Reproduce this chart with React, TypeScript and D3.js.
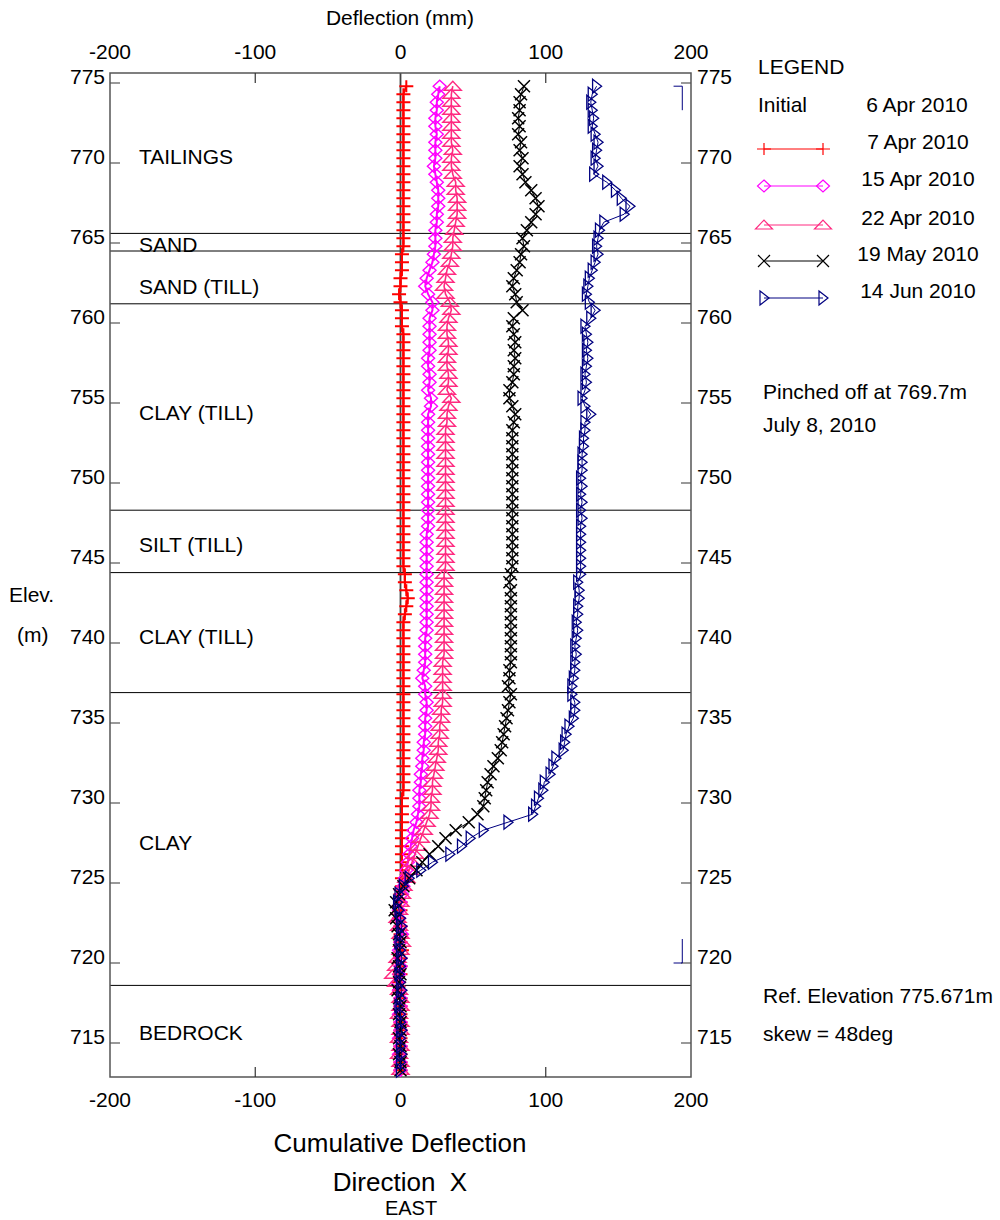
import React from "react";
import * as d3 from "d3";

const elevations = [
  774.8,774.3,773.8,773.3,772.8,772.3,771.8,771.3,770.8,770.3,
  769.8,769.3,768.8,768.3,767.8,767.3,766.8,766.3,765.8,765.3,
  764.8,764.3,763.8,763.3,762.8,762.3,761.8,761.3,760.8,760.3,
  759.8,759.3,758.8,758.3,757.8,757.3,756.8,756.3,755.8,755.3,
  754.8,754.3,753.8,753.3,752.8,752.3,751.8,751.3,750.8,750.3,
  749.8,749.3,748.8,748.3,747.8,747.3,746.8,746.3,745.8,745.3,
  744.8,744.3,743.8,743.3,742.8,742.3,741.8,741.3,740.8,740.3,
  739.8,739.3,738.8,738.3,737.8,737.3,736.8,736.3,735.8,735.3,
  734.8,734.3,733.8,733.3,732.8,732.3,731.8,731.3,730.8,730.3,
  729.8,729.3,728.8,728.3,727.8,727.3,726.8,726.3,725.8,725.3,
  724.8,724.3,723.8,723.3,722.8,722.3,721.8,721.3,720.8,720.3,
  719.8,719.3,718.8,718.3,717.8,717.3,716.8,716.3,715.8,715.3,
  714.8,714.3,713.8,713.3,
];

const apr07 = [
  4,2,2,2,2,2,2,2,2,2,
  2,2,2,2,2,2,2,2,2,2,
  2,1,1,1,0,0,-1,0,1,1,
  1,2,2,2,2,2,2,2,2,2,
  2,2,2,2,2,2,2,2,2,2,
  2,2,2,2,2,2,2,2,2,2,
  2,3,3,4,5,4,3,2,2,2,
  2,2,2,2,2,2,2,2,2,2,
  2,2,2,2,2,2,2,2,2,1,
  1,1,1,1,1,1,1,1,1,1,
  1,0,0,0,-1,0,0,0,1,0,
  0,0,-1,-1,0,0,0,0,0,0,
  0,0,0,0,
];

const apr15 = [
  27,26,25,25,24,24,25,24,24,24,
  23,24,25,26,26,26,25,25,24,24,
  24,23,22,20,18,17,19,22,22,20,
  20,20,20,20,19,19,20,20,19,21,
  21,19,19,19,19,19,19,19,19,19,
  19,19,19,19,19,19,18,18,18,18,
  18,18,18,18,18,18,18,18,18,17,
  17,17,17,16,15,17,17,18,18,17,
  17,17,16,16,15,15,14,14,13,13,
  13,12,11,9,8,7,6,5,4,3,
  2,1,0,-1,-1,0,1,0,-1,0,
  0,-1,-2,-1,0,0,-1,0,0,-1,
  0,-1,0,0,
];

const apr22 = [
  36,35,35,35,35,35,35,35,36,35,
  35,36,38,38,39,39,39,38,37,36,
  36,35,34,32,31,30,31,34,35,33,
  32,32,33,33,32,32,33,33,32,35,
  33,32,32,31,31,31,31,31,31,31,
  31,31,31,31,31,31,31,31,31,31,
  31,30,30,30,30,30,30,30,30,30,
  30,30,29,29,29,29,29,29,28,28,
  27,27,26,26,25,24,23,22,22,21,
  21,20,18,16,14,12,10,8,6,4,
  2,1,0,-1,-2,-1,0,1,0,-2,
  -3,-5,-3,-1,0,0,-1,0,0,-1,
  0,-1,0,0,
];

const may19 = [
  85,83,82,82,81,82,81,83,82,84,
  82,84,86,90,93,95,93,90,87,84,
  85,83,82,80,78,77,79,80,84,78,
  77,78,79,78,79,78,78,77,75,75,
  77,79,78,77,77,77,77,77,77,77,
  77,77,77,77,77,77,77,77,77,77,
  77,76,75,76,76,76,76,76,76,76,
  76,76,76,75,75,74,76,75,74,73,
  72,71,70,69,67,64,62,60,59,58,
  57,53,47,38,31,26,20,15,11,6,
  2,-1,-3,-4,-3,-2,-1,0,-1,-2,
  -1,0,-1,-2,-1,0,-1,0,0,-1,
  0,-1,0,0,
];

const jun14 = [
  135,132,131,132,133,132,134,136,135,134,
  136,133,142,148,152,158,154,140,137,136,
  135,136,134,132,130,129,128,130,134,131,
  127,128,129,128,129,128,127,128,127,125,
  127,131,127,127,126,126,125,125,125,124,
  125,124,125,124,125,124,124,124,124,124,
  124,124,122,123,123,122,122,121,122,121,
  120,121,120,120,119,118,118,120,120,119,
  116,114,113,112,107,105,103,99,98,95,
  93,91,74,57,48,42,34,22,14,6,
  2,-1,-2,-1,0,1,0,-1,0,1,
  0,-1,0,1,0,-1,0,0,1,0,
  0,1,0,0,
];

const seriesNames = ["7 Apr 2010", "15 Apr 2010", "22 Apr 2010", "19 May 2010", "14 Jun 2010"];
const seriesValues = [apr07, apr15, apr22, may19, jun14];
const seriesColors = ["#ff0000", "#ff00ff", "#ff2a80", "#000000", "#000080"];
const seriesMarkers = ["plus", "diamond", "triUp", "cross", "triRight"];
const seriesLineWidths = [2, 2, 1.6, 1, 1];
const seriesMarkerWidths = [2, 1.4, 1.4, 1.5, 1.3];

const xTicks = [-200, -100, 0, 100, 200];
const yTicks = [775, 770, 765, 760, 755, 750, 745, 740, 735, 730, 725, 720, 715];

const layerBoundaries = [765.6, 764.5, 761.2, 748.3, 744.4, 736.9, 718.6];
const layerNames = ["TAILINGS", "SAND", "SAND (TILL)", "CLAY (TILL)", "SILT (TILL)", "CLAY (TILL)", "CLAY", "BEDROCK"];
const layerLabelElev = [770.4, 764.9, 762.25, 754.4, 746.1, 740.4, 727.5, 715.6];

const pinchTop = 774.8;
const pinchBottom = 720.0;

const FONT = "'Liberation Sans', Arial, Helvetica, sans-serif";

function markerPath(type: string): string {
  switch (type) {
    case "plus":
      return "M-7,0H7M0,-6V6";
    case "cross":
      return "M-6,-6L6,6M-6,6L6,-6";
    case "diamond":
      return "M0,-6L6.5,0L0,6L-6.5,0Z";
    case "triUp":
      return "M-8.5,4L0,-5L8.5,4Z";
    case "triRight":
      return "M-4,-7L5,0L-4,7Z";
    default:
      return "";
  }
}

export default function App() {
  const x = d3.scaleLinear().domain([-200, 200]).range([110, 691]);
  const y = d3.scaleLinear().domain([715, 775]).range([1043, 83]);
  const frameTop = y(775.625);
  const frameBottom = y(712.875);
  const left = x(-200);
  const right = x(200);

  const line = d3
    .line<number>()
    .x((d) => x(d))
    .y((_, i) => y(elevations[i]));

  const legendY = [149, 186, 225, 261, 298];
  const FS = 21;

  return (
    <svg
      width={1000}
      height={1220}
      style={{ position: "absolute", left: 0, top: 0, background: "#fff" }}
      fontFamily={FONT}
    >
      <rect x={0} y={0} width={1000} height={1220} fill="#fff" />
      {layerBoundaries.map((e, i) => (
        <line key={"lb" + i} x1={left} x2={right} y1={y(e)} y2={y(e)} stroke="#000" strokeWidth={1} />
      ))}
      <line x1={x(0)} x2={x(0)} y1={frameTop} y2={frameBottom} stroke="#444" strokeWidth={1.8} />

      <rect x={left} y={frameTop} width={right - left} height={frameBottom - frameTop} fill="none" stroke="#555" strokeWidth={1.5} />

      {yTicks.map((t) => (
        <g key={"yt" + t}>
          <line x1={left} x2={left + 10} y1={y(t)} y2={y(t)} stroke="#555" strokeWidth={1.2} />
          <line x1={right - 10} x2={right} y1={y(t)} y2={y(t)} stroke="#555" strokeWidth={1.2} />
          <text x={left - 5} y={y(t) + 1} fontSize={FS} textAnchor="end" fill="#000">
            {t}
          </text>
          <text x={right + 6} y={y(t) + 1} fontSize={FS} textAnchor="start" fill="#000">
            {t}
          </text>
        </g>
      ))}
      {xTicks.map((t) => (
        <g key={"xt" + t}>
          {t !== 0 && Math.abs(t) !== 200 && (
            <>
              <line x1={x(t)} x2={x(t)} y1={frameTop} y2={frameTop + 10} stroke="#333" strokeWidth={1.2} />
              <line x1={x(t)} x2={x(t)} y1={frameBottom - 10} y2={frameBottom} stroke="#333" strokeWidth={1.2} />
            </>
          )}
          <text x={x(t)} y={59} fontSize={FS} textAnchor="middle" fill="#000">
            {t}
          </text>
          <text x={x(t)} y={1107} fontSize={FS} textAnchor="middle" fill="#000">
            {t}
          </text>
        </g>
      ))}

      {layerNames.map((n, i) => (
        <text key={"ln" + i} x={139} y={y(layerLabelElev[i]) + 7} fontSize={FS} fill="#000">
          {n}
        </text>
      ))}

      {seriesValues.map((vals, si) => (
        <g key={"s" + si}>
          <path d={line(vals) || ""} fill="none" stroke={seriesColors[si]} strokeWidth={seriesLineWidths[si]} />
          {vals.map((v, i) => (
            <path
              key={i}
              d={markerPath(seriesMarkers[si])}
              transform={`translate(${x(v)},${y(elevations[i])})`}
              fill="none"
              stroke={seriesColors[si]}
              strokeWidth={seriesMarkerWidths[si]}
            />
          ))}
        </g>
      ))}

      <path
        d={`M${x(188)},${y(pinchTop)}H${x(194)}V${y(pinchTop) + 24}`}
        fill="none"
        stroke="#000080"
        strokeWidth={1}
      />
      <path
        d={`M${x(194)},${y(pinchBottom) - 24}V${y(pinchBottom)}H${x(188)}`}
        fill="none"
        stroke="#000080"
        strokeWidth={1}
      />

      <text x={400} y={25} fontSize={FS} textAnchor="middle" fill="#000">
        Deflection (mm)
      </text>
      <text x={9} y={602} fontSize={FS} fill="#000">
        Elev.
      </text>
      <text x={17} y={642} fontSize={FS} fill="#000">
        (m)
      </text>
      <text x={400} y={1152} fontSize={26} textAnchor="middle" fill="#000">
        Cumulative Deflection
      </text>
      <text x={400} y={1191} fontSize={26} textAnchor="middle" fill="#000" style={{ whiteSpace: "pre" }}>
        {"Direction  X"}
      </text>
      <text x={411} y={1215} fontSize={20} textAnchor="middle" fill="#000">
        EAST
      </text>

      <text x={758} y={74} fontSize={FS} fill="#000">
        LEGEND
      </text>
      <text x={758} y={112} fontSize={FS} fill="#000">
        Initial
      </text>
      <text x={917} y={112} fontSize={FS} textAnchor="middle" fill="#000">
        6 Apr 2010
      </text>
      {seriesNames.map((n, i) => (
        <g key={"lg" + i}>
          <line x1={764} x2={823} y1={legendY[i]} y2={legendY[i]} stroke={seriesColors[i]} strokeWidth={1} />
          <path d={markerPath(seriesMarkers[i])} transform={`translate(764,${legendY[i]})`} fill="none" stroke={seriesColors[i]} strokeWidth={1.2} />
          <path d={markerPath(seriesMarkers[i])} transform={`translate(823,${legendY[i]})`} fill="none" stroke={seriesColors[i]} strokeWidth={1.2} />
          <text x={918} y={legendY[i]} fontSize={FS} textAnchor="middle" fill="#000">
            {n}
          </text>
        </g>
      ))}

      <text x={763} y={399} fontSize={FS} fill="#000">
        Pinched off at 769.7m
      </text>
      <text x={763} y={432} fontSize={FS} fill="#000">
        July 8, 2010
      </text>
      <text x={763} y={1003} fontSize={FS} fill="#000">
        Ref. Elevation 775.671m
      </text>
      <text x={763} y={1041} fontSize={FS} fill="#000">
        skew = 48deg
      </text>
    </svg>
  );
}
